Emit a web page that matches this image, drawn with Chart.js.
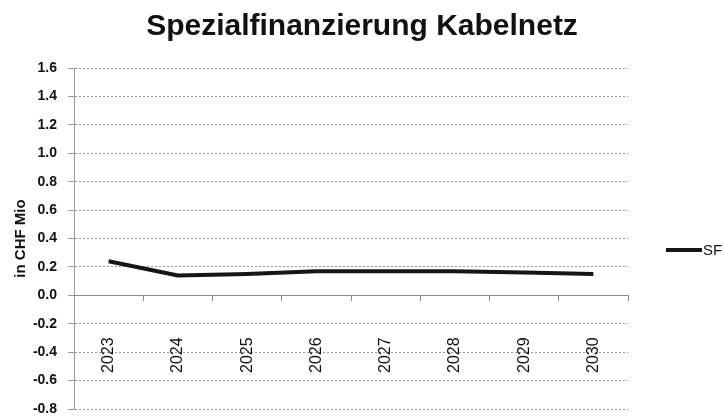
<!DOCTYPE html>
<html>
<head>
<meta charset="utf-8">
<title>Spezialfinanzierung Kabelnetz</title>
<script src="https://cdn.jsdelivr.net/npm/chart.js"></script>
<style>
  html, body { margin: 0; padding: 0; background: #fff; overflow: hidden; }
  #wrap { width: 724px; height: 416px; }
</style>
</head>
<body>
<div id="wrap"><canvas id="sfChart" width="724" height="416"></canvas></div>
<script>
// values
const years = ["2023", "2024", "2025", "2026", "2027", "2028", "2029", "2030"];
const sfKabelnetz = [0.24, 0.14, 0.15, 0.17, 0.17, 0.17, 0.16, 0.15];
const yMin = -0.8;
const yMax = 1.6;
const yStep = 0.2;

const FONT = '"Liberation Sans", Arial, sans-serif';

// Excel style legend on the right, cut off by the window edge
const sideLegend = {
  id: "sideLegend",
  afterDraw(chart) {
    const ds = chart.data.datasets[0];
    const ctx = chart.ctx;
    ctx.save();
    ctx.strokeStyle = ds.borderColor;
    ctx.lineWidth = 4;
    ctx.beginPath();
    ctx.moveTo(666, 250);
    ctx.lineTo(702, 250);
    ctx.stroke();
    ctx.fillStyle = "#111";
    ctx.font = "15px " + FONT;
    ctx.textBaseline = "middle";
    ctx.fillText(ds.label, 703, 251);
    ctx.restore();
  },
};

const ctx = document.getElementById("sfChart").getContext("2d");
new Chart(ctx, {
  type: "line",
  data: {
    labels: years,
    datasets: [
      {
        label: "SF Kabelnetz",
        data: sfKabelnetz,
        borderColor: "#161616",
        borderWidth: 4,
        pointRadius: 0,
        tension: 0,
        borderJoinStyle: "round",
      },
    ],
  },
  options: {
    responsive: false,
    animation: false,
    devicePixelRatio: 1,
    layout: {
      padding: { left: 0, right: 0, top: 0, bottom: 7 },
    },
    plugins: {
      legend: { display: false },
      tooltip: { enabled: false },
      title: {
        display: true,
        text: "Spezialfinanzierung Kabelnetz",
        color: "#111",
        font: { family: FONT, size: 30, weight: "bold" },
        padding: { top: 9, bottom: 23 },
      },
    },
    scales: {
      y: {
        min: yMin,
        max: yMax,
        afterFit(scale) {
          scale.width = 74;
          // tick padding should not push the plot area in from the bottom
          scale.paddingTop = 7;
          scale.paddingBottom = 7;
        },
        ticks: {
          stepSize: yStep,
          padding: 11,
          color: "#111",
          font: { family: FONT, size: 14, weight: "bold" },
          callback: (v) => Number(v).toFixed(1),
        },
        grid: {
          color: "#9a9a9a",
          lineWidth: 1,
          tickLength: 6,
        },
        border: {
          display: true,
          color: "#9a9a9a",
          dash: [2, 2],
        },
        title: {
          display: true,
          text: "in CHF Mio",
          color: "#111",
          font: { family: FONT, size: 15, weight: "bold" },
          padding: { top: 12, bottom: 0 },
        },
      },
      // empty right-hand space where Excel keeps the legend
      legendSpace: {
        type: "linear",
        position: "right",
        display: true,
        grid: { display: false, drawTicks: false },
        border: { display: false },
        ticks: { display: false },
        afterFit(scale) {
          scale.width = 96;
        },
      },
      x: {
        type: "category",
        offset: true,
        position: { y: 0 },
        grid: {
          offset: true,
          drawOnChartArea: false,
          drawTicks: true,
          tickLength: 5,
          color: "#8a8a8a",
        },
        border: {
          display: true,
          color: "#8a8a8a",
        },
        ticks: {
          autoSkip: false,
          minRotation: 90,
          maxRotation: 90,
          padding: 37,
          color: "#111",
          font: { family: FONT, size: 16 },
        },
      },
    },
  },
  plugins: [sideLegend],
});
</script>
</body>
</html>
